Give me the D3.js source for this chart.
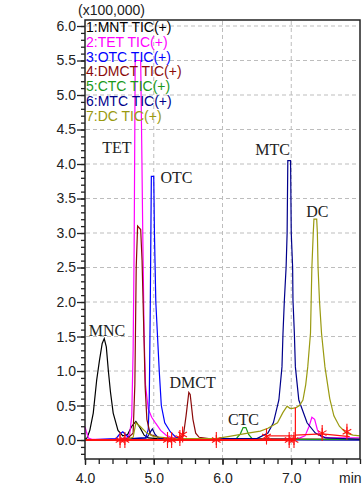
<!DOCTYPE html>
<html>
<head>
<meta charset="utf-8">
<script src="https://cdn.jsdelivr.net/npm/d3@7"></script>
<style>
  body { margin: 0; background: #fff; }
  svg { display: block; }
  .axis text { font-family: "Liberation Sans", Arial, sans-serif; font-size: 14px; fill: #222; }
  .legend text { font-family: "Liberation Sans", Arial, sans-serif; font-size: 14px; }
  .peak { font-family: "Liberation Serif", "Times New Roman", serif; font-size: 16px; fill: #222; }
</style>
</head>
<body>
<svg id="chart"></svg>
<script>
const width = 364;
const height = 488;

// traces [time (min), intensity (x100,000)]
const mnt = [[4.00,0.01],[4.03,0.03],[4.07,0.14],[4.12,0.39],[4.17,0.87],[4.21,1.15],[4.25,1.40],[4.28,1.47],[4.31,1.35],[4.34,1.00],[4.37,0.70],[4.41,0.39],[4.48,0.14],[4.55,0.06],[4.62,0.08],[4.68,0.20],[4.74,0.27],[4.80,0.18],[4.86,0.07],[4.92,0.03],[5.05,0.02],[5.50,0.01],[8.00,0.00]];
const tet = [[4.00,0.19],[4.02,0.12],[4.05,0.03],[4.10,0.01],[4.50,0.01],[4.60,0.03],[4.65,0.08],[4.68,0.35],[4.70,1.30],[4.715,2.80],[4.73,5.50],[4.81,5.50],[4.825,4.30],[4.84,3.00],[4.86,1.50],[4.88,0.80],[4.92,0.45],[4.97,0.33],[5.03,0.24],[5.10,0.14],[5.18,0.07],[5.28,0.03],[5.40,0.01],[7.10,0.02],[7.20,0.06],[7.26,0.20],[7.30,0.33],[7.34,0.30],[7.38,0.15],[7.43,0.05],[7.55,0.03],[8.00,0.03]];
const otc = [[4.00,0.00],[4.45,0.02],[4.50,0.08],[4.55,0.12],[4.60,0.07],[4.66,0.02],[4.88,0.03],[4.92,0.15],[4.935,0.60],[4.95,2.00],[4.965,3.82],[5.00,3.82],[5.01,3.00],[5.03,2.00],[5.08,1.00],[5.11,0.50],[5.16,0.25],[5.24,0.12],[5.32,0.04],[5.50,0.01],[8.00,0.00]];
const dmct = [[4.00,0.00],[4.60,0.01],[4.70,0.10],[4.725,0.80],[4.745,2.50],[4.765,3.10],[4.81,3.05],[4.83,2.60],[4.86,1.40],[4.875,0.77],[4.90,0.30],[4.95,0.08],[5.10,0.03],[5.35,0.02],[5.43,0.06],[5.47,0.35],[5.51,0.69],[5.53,0.66],[5.57,0.30],[5.61,0.10],[5.66,0.04],[5.80,0.02],[8.00,0.01]];
const ctc = [[4.00,0.00],[6.00,0.01],[6.20,0.02],[6.26,0.09],[6.30,0.18],[6.34,0.18],[6.38,0.08],[6.43,0.02],[6.60,0.01],[8.00,0.01]];
const mtc = [[4.00,0.00],[4.50,0.01],[4.90,0.03],[4.94,0.10],[4.98,0.16],[5.02,0.08],[5.08,0.02],[6.50,0.02],[6.66,0.10],[6.74,0.25],[6.82,0.58],[6.865,1.06],[6.88,1.55],[6.90,2.03],[6.925,2.50],[6.94,3.00],[6.95,4.05],[6.99,4.05],[7.00,3.00],[7.02,2.50],[7.025,2.03],[7.045,1.55],[7.06,1.06],[7.11,0.58],[7.23,0.25],[7.35,0.10],[7.50,0.03],[8.00,0.01]];
const dc = [[4.00,0.00],[4.60,0.01],[4.70,0.04],[4.74,0.25],[4.80,0.20],[4.90,0.10],[5.00,0.05],[5.30,0.02],[5.90,0.02],[6.08,0.05],[6.37,0.10],[6.55,0.13],[6.66,0.17],[6.80,0.25],[6.88,0.40],[6.94,0.49],[6.98,0.46],[7.02,0.46],[7.07,0.47],[7.12,0.50],[7.17,0.58],[7.21,0.80],[7.24,1.06],[7.28,1.55],[7.29,2.03],[7.30,2.50],[7.32,3.00],[7.33,3.20],[7.37,3.20],[7.38,3.00],[7.39,2.50],[7.41,2.03],[7.44,1.55],[7.49,1.06],[7.56,0.60],[7.62,0.35],[7.70,0.20],[7.80,0.10],[7.90,0.07],[8.00,0.06]];

const traces = [mnt, tet, otc, dmct, ctc, mtc, dc];
const legendNames = ["1:MNT TIC(+)", "2:TET TIC(+)", "3:OTC TIC(+)", "4:DMCT TIC(+)", "5:CTC TIC(+)", "6:MTC TIC(+)", "7:DC TIC(+)"];
const colors = ["#000000", "#ff00ff", "#0000ff", "#8b0a0a", "#1a9a1a", "#00008b", "#9a9a10"];

// peak names [label, centre time, baseline value]
const peakLabels = [["MNC", 4.32, 1.51], ["TET", 4.465, 4.16], ["OTC", 5.33, 3.725], ["DMCT", 5.565, 0.754], ["CTC", 6.305, 0.218], ["MTC", 6.73, 4.13], ["DC", 7.38, 3.23]];

// integration marks
const redBase = [[[4.00,0.00],[7.06,0.00]], [[6.64,0.06],[7.04,0.06]], [[7.06,0.00],[7.06,0.47]], [[7.06,0.07],[7.45,0.09],[7.85,0.05]]];
const redMarks = [[4.51,0.00],[4.58,0.00],[5.20,0.00],[5.26,0.00],[5.38,0.03],[5.42,0.08],[5.91,0.00],[6.64,0.05],[6.97,0.00],[7.04,0.00],[7.45,0.10],[7.81,0.12]];

const xTicks = [4, 5, 6, 7];
const yTicks = d3.range(0, 13).map((i) => i / 2);

const svg = d3.select("#chart").attr("width", width).attr("height", height);

const x = d3.scaleLinear().domain([4, 8]).range([85, 360]);
const y = d3.scaleLinear().domain([-0.275, 6.087]).range([459, 20]);

// grid
svg.append("g")
  .selectAll("line")
  .data(yTicks.filter((d) => d > 0))
  .join("line")
  .attr("x1", 86).attr("x2", 359)
  .attr("y1", (d) => y(d)).attr("y2", (d) => y(d))
  .attr("stroke", "#bdbdbd").attr("stroke-dasharray", "4,3");
svg.append("g")
  .selectAll("line")
  .data([5, 6, 7])
  .join("line")
  .attr("x1", (d) => x(d)).attr("x2", (d) => x(d))
  .attr("y1", 21).attr("y2", 458)
  .attr("stroke", "#bdbdbd").attr("stroke-dasharray", "4,3");

// traces
const line = d3.line().x((d) => x(d[0])).y((d) => y(d[1]));
svg.append("g")
  .selectAll("path")
  .data(traces)
  .join("path")
  .attr("d", line)
  .attr("fill", "none")
  .attr("stroke", (d, i) => colors[i])
  .attr("stroke-width", 1.2);

// integration baseline + marks
svg.append("g")
  .selectAll("path")
  .data(redBase)
  .join("path")
  .attr("d", line)
  .attr("fill", "none")
  .attr("stroke", "#ff1010")
  .attr("stroke-width", (d, i) => (i === 0 ? 2 : 1.2));
const star = d3.symbol(d3.symbolAsterisk).size(70);
const marks = svg.append("g")
  .selectAll("g")
  .data(redMarks)
  .join("g")
  .attr("transform", (d) => `translate(${x(d[0])},${y(d[1])})`);
marks.append("path").attr("d", star).attr("fill", "none").attr("stroke", "#ff1010").attr("stroke-width", 1.1);
marks.append("line").attr("x1", 0).attr("x2", 0).attr("y1", -8).attr("y2", 8).attr("stroke", "#ff1010").attr("stroke-width", 1.1);

// frame
svg.append("rect")
  .attr("x", 85).attr("y", 20).attr("width", 275).attr("height", 439)
  .attr("fill", "none").attr("stroke", "#222").attr("stroke-width", 1.5);

// y axis
svg.append("g").attr("class", "axis")
  .attr("transform", "translate(85,0)")
  .call(d3.axisLeft(y).tickValues(d3.range(-2, 61).map((i) => i / 10)).tickSize(4).tickFormat(""))
  .call((g) => g.select(".domain").remove());
svg.append("g").attr("class", "axis")
  .attr("transform", "translate(85,0)")
  .call(d3.axisLeft(y).tickValues(yTicks).tickSize(8).tickPadding(1).tickFormat(d3.format(".1f")))
  .call((g) => g.select(".domain").remove());

// x axis
svg.append("g").attr("class", "axis")
  .attr("transform", "translate(0,459)")
  .call(d3.axisBottom(x).tickValues(d3.range(20, 41).map((i) => i / 5)).tickSize(5).tickFormat(""))
  .call((g) => g.select(".domain").remove());
svg.append("g").attr("class", "axis")
  .attr("transform", "translate(0,459)")
  .call(d3.axisBottom(x).tickValues(xTicks).tickSize(6).tickPadding(8).tickFormat(d3.format(".1f")))
  .call((g) => g.select(".domain").remove());
svg.selectAll(".axis line").attr("stroke", "#222").attr("stroke-width", 1.3);

svg.append("text")
  .attr("x", 339).attr("y", 483)
  .style("font-family", "'Liberation Sans', Arial, sans-serif").style("font-size", "14px").attr("fill", "#222")
  .text("min");
svg.append("text")
  .attr("x", 78).attr("y", 15)
  .style("font-family", "'Liberation Sans', Arial, sans-serif").style("font-size", "14px").attr("fill", "#222")
  .text("(x100,000)");

// legend
svg.append("g").attr("class", "legend")
  .selectAll("text")
  .data(legendNames)
  .join("text")
  .attr("x", 86)
  .attr("y", (d, i) => 32 + i * 14.8)
  .attr("fill", (d, i) => colors[i])
  .text((d) => d);

// peak names
svg.append("g")
  .selectAll("text")
  .data(peakLabels)
  .join("text")
  .attr("class", "peak")
  .attr("x", (d) => x(d[1]))
  .attr("y", (d) => y(d[2]))
  .attr("text-anchor", "middle")
  .text((d) => d[0]);
</script>
</body>
</html>
